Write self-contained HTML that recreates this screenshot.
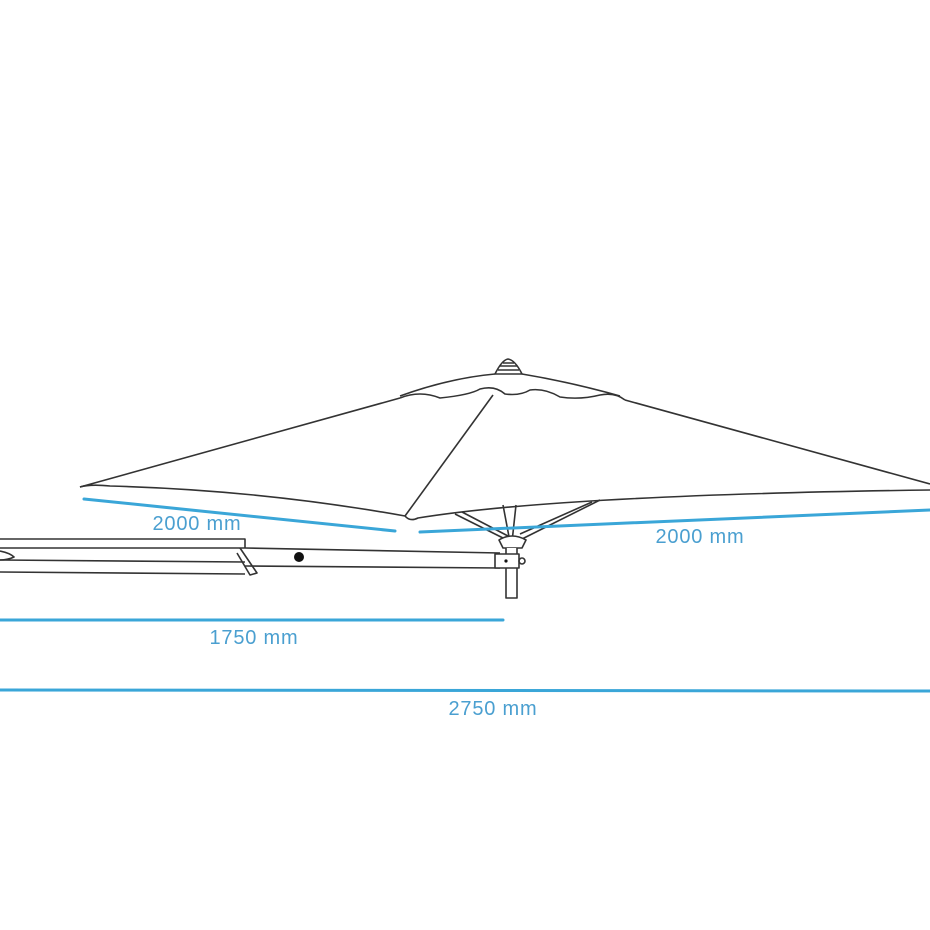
<!DOCTYPE html>
<html><head><style>body{margin:0;background:#fff}svg{display:block}</style></head><body>
<svg width="930" height="930" viewBox="0 0 930 930" xmlns="http://www.w3.org/2000/svg">
<rect width="930" height="930" fill="#fff"/>
<g fill="none" stroke="#333" stroke-width="1.6" stroke-linejoin="round">
<path d="M495,374 Q502,360 508,359 Q515,360 522,374 Z" fill="#fff"/>
<path d="M498,370 H519 M500,366 H517 M503,363 H514"/>
<path d="M400,396 Q450,378 495,374 M522,374 Q570,382 620,396"/>
<path d="M400,398 Q420,390 440,398 Q470,395 480,389 Q495,385 505,394 Q520,396 530,390 Q545,388 560,397 Q580,400 600,395 Q615,392 625,400"/>
<path d="M400,398 L80,487"/>
<path d="M625,400 L930,484"/>
<path d="M80,487 Q90,484 110,486 Q260,490 405,516 Q410,522 418,518 Q560,495 930,490"/>
<path d="M493,395 L405,516"/>
<path d="M455,514 L507,540 M600,500 L520,540 M462,512 L508,536 M592,502 L520,534"/>
<path d="M503,505 L510,542 M516,505 L512,542"/>
<path d="M499,540 Q512,532 526,540 L522,548 H503 Z" fill="#fff"/>
<path d="M0,539 H245 V548 M0,548 H245"/>
<path d="M0,560 L245,562 M0,572 L245,574"/>
<path d="M245,548 L500,553 M245,566 L500,568"/>
<path d="M240,548 L257,573 L250,575 L237,553"/>
<path d="M0,551 Q10,553 14,557 Q8,560 0,560"/>
<path d="M506,548 V598 H517 V548" fill="#fff"/>
<rect x="495" y="554" width="24" height="14" fill="#fff"/>
<circle cx="522" cy="561" r="3"/>
</g>
<circle cx="299" cy="557" r="5" fill="#111"/>
<circle cx="506" cy="561" r="1.6" fill="#111"/>
<g stroke="#3aa6d8" stroke-width="3" stroke-linecap="round">
<line x1="84" y1="499" x2="395" y2="531"/>
<line x1="420" y1="532" x2="930" y2="510"/>
<line x1="0" y1="620" x2="503" y2="620"/>
<line x1="0" y1="690" x2="930" y2="691"/>
</g>
<g fill="#4a9fd0" font-family="Liberation Sans, sans-serif" font-size="20" letter-spacing="0.8" text-anchor="middle">
<text x="197" y="530">2000 mm</text>
<text x="700" y="543">2000 mm</text>
<text x="254" y="644">1750 mm</text>
<text x="493" y="715">2750 mm</text>
</g>
</svg>
</body></html>
